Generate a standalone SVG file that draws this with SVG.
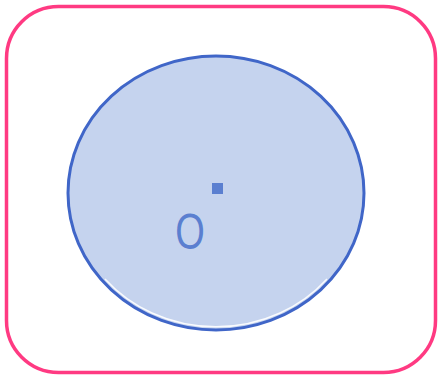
<svg xmlns="http://www.w3.org/2000/svg" width="439" height="377" viewBox="0 0 439 377">
<style>
.frame{fill:#fff;stroke:#FF3A82;stroke-width:3.5}
.circ{fill:#C5D3EE;stroke:#4066C8;stroke-width:3}
.lbl{font-family:"Liberation Sans",Arial,sans-serif;fill:#5B7FD0}
</style>
<rect width="439" height="377" fill="#fff"/>
<rect class="frame" x="6.5" y="6.5" width="429" height="366" rx="52" ry="52"/>
<g id="circle">
<ellipse class="circ" cx="216" cy="193" rx="148" ry="137"/>
<path d="M105,279 A145,134 0 0 0 327,279" fill="none" stroke="#fff" stroke-width="1.5" opacity="0.9"/>
</g>
<g id="center">
<rect x="212" y="183" width="11" height="11" fill="#5B7FD0"/>
</g>
<g id="label">
<text class="lbl" transform="translate(190,249) scale(1,1.32)" font-size="38" text-anchor="middle">O</text>
</g>
</svg>
